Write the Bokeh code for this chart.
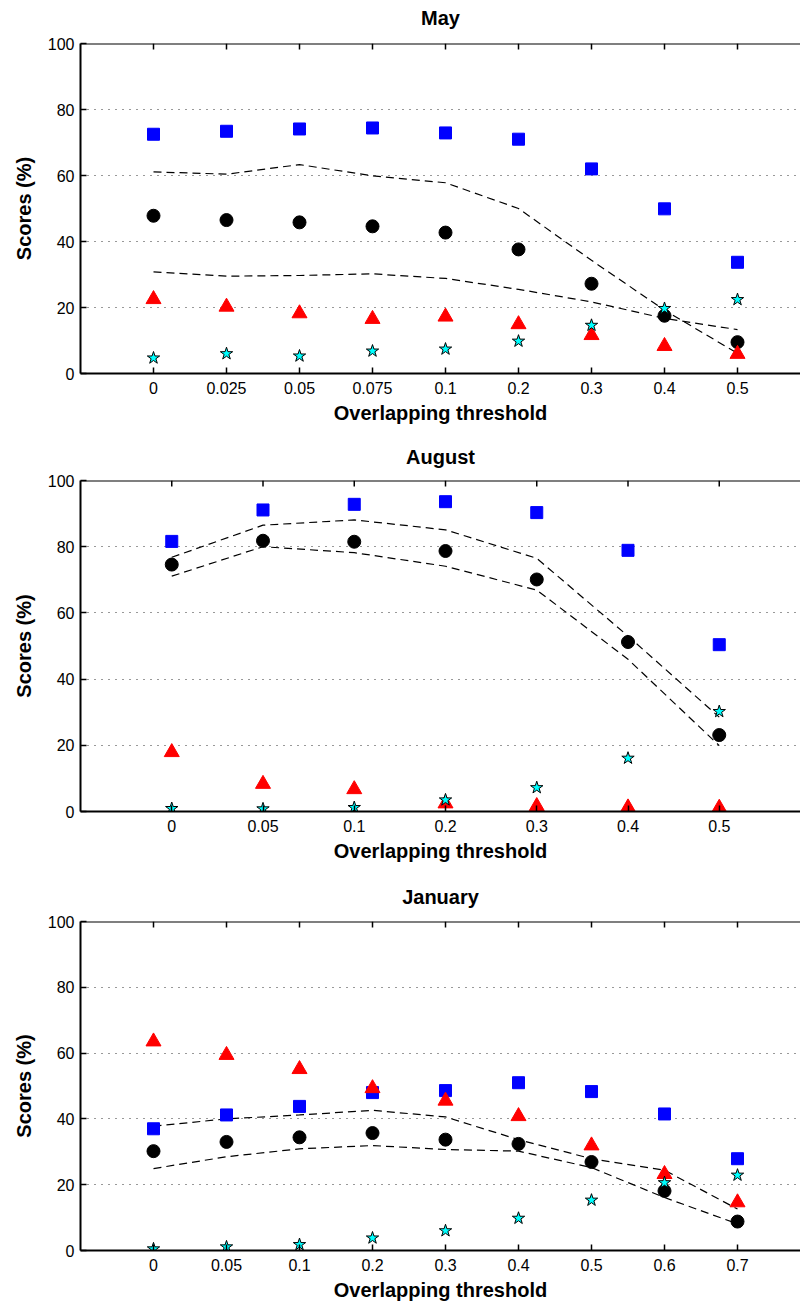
from bokeh.plotting import figure
from bokeh.layouts import column
from bokeh.models import Range1d, FixedTicker, Span
from bokeh.embed import file_html
from bokeh.resources import INLINE

# ---------------- data ----------------
may_thr = ["0", "0.025", "0.05", "0.075", "0.1", "0.2", "0.3", "0.4", "0.5"]
may_blue = [72.5, 73.4, 74.1, 74.4, 72.9, 71.0, 62.0, 49.9, 33.7]
may_black = [47.8, 46.5, 45.8, 44.6, 42.7, 37.6, 27.2, 17.5, 9.5]
may_red = [22.5, 20.2, 18.2, 16.5, 17.2, 14.9, 11.6, 8.3, 5.9]
may_cyan = [4.7, 6.0, 5.3, 6.8, 7.4, 9.8, 14.6, 19.7, 22.4]
may_upper = [61.1, 60.4, 63.3, 59.9, 57.8, 50.0, 34.3, 19.2, 6.1]
may_lower = [30.8, 29.5, 29.7, 30.2, 28.8, 25.5, 21.7, 16.7, 13.3]

aug_thr = ["0", "0.05", "0.1", "0.2", "0.3", "0.4", "0.5"]
aug_blue = [81.6, 91.1, 92.8, 93.6, 90.3, 78.9, 50.4]
aug_black = [74.6, 81.8, 81.5, 78.7, 70.1, 51.2, 23.1]
aug_red = [17.9, 8.3, 6.7, 2.4, 1.6, 1.2, 1.1]
aug_cyan = [0.9, 0.8, 1.2, 3.5, 7.2, 16.1, 30.2]
aug_upper = [76.8, 86.5, 88.1, 85.1, 76.5, 53.0, 28.5]
aug_lower = [71.1, 80.0, 78.2, 74.1, 66.9, 46.0, 19.9]

jan_thr = ["0", "0.05", "0.1", "0.2", "0.3", "0.4", "0.5", "0.6", "0.7"]
jan_blue = [37.0, 41.2, 43.8, 48.0, 48.6, 51.0, 48.3, 41.5, 27.9]
jan_black = [30.2, 33.0, 34.4, 35.7, 33.7, 32.4, 26.9, 18.1, 8.8]
jan_red = [63.5, 59.4, 55.1, 49.3, 45.5, 40.8, 31.9, 23.2, 14.6]
jan_cyan = [0.5, 1.1, 1.8, 3.8, 6.0, 9.8, 15.3, 20.6, 22.9]
jan_upper = [37.8, 40.0, 41.2, 42.6, 40.6, 33.7, 27.9, 24.4, 12.6]
jan_lower = [24.9, 28.5, 30.9, 31.9, 30.7, 30.2, 25.2, 16.1, 8.1]

y_ticks = [0, 20, 40, 60, 80, 100]

FONT = "Liberation Sans"
FRAME_W = 720.0


def panel(title, cats, blue, black, red, cyan, upper, lower,
          height, btop, bbot, t_stand, margin_top=0):
    n = len(cats)
    idx = list(range(n))
    unit = 730.0 / (n + 1)  # axis spans -1 .. n, cropped at the window's right edge
    x_end = -1 + FRAME_W / unit
    p = figure(width=800, height=height, output_backend="svg", toolbar_location=None,
               x_range=Range1d(-1, x_end), y_range=Range1d(0, 100),
               min_border_left=80, min_border_right=0, min_border_top=btop,
               min_border_bottom=bbot, outline_line_color=None, title=title,
               margin=(margin_top, 0, 0, 0))
    p.title.align = "center"
    p.title.text_font = FONT
    p.title.text_font_size = "20px"
    p.title.text_font_style = "bold"
    p.title.text_color = "black"
    p.title.offset = 5  # centre over the full (uncropped) axes box
    p.title.standoff = t_stand

    xa = p.xaxis[0]
    xa.ticker = FixedTicker(ticks=idx)
    xa.major_label_overrides = {i: c for i, c in enumerate(cats)}
    xa.axis_label = "Overlapping threshold"
    ya = p.yaxis[0]
    ya.ticker = FixedTicker(ticks=y_ticks)
    ya.axis_label = "Scores (%)"
    for ax in (xa, ya):
        ax.axis_line_width = 2
        ax.axis_line_color = "black"
        ax.major_tick_in = 6
        ax.major_tick_out = 0
        ax.major_tick_line_width = 1.5
        ax.minor_tick_line_color = None
        ax.major_tick_line_color = "black"
        ax.major_label_text_font = FONT
        ax.major_label_text_font_size = "16px"
        ax.major_label_text_color = "black"
        ax.axis_label_text_font = FONT
        ax.axis_label_text_font_size = "20px"
        ax.axis_label_text_font_style = "bold"
        ax.axis_label_text_color = "black"
    xa.major_label_standoff = 8
    xa.axis_label_standoff = 5
    ya.major_label_standoff = 6
    ya.axis_label_standoff = 10

    # top border with inward ticks
    p.add_layout(Span(location=100, dimension="width", line_color="black", line_width=2))
    p.segment(x0=idx, y0=[100] * n, x1=idx, y1=[98.2] * n, line_color="black", line_width=1.5)

    p.xgrid.grid_line_color = None
    p.ygrid.ticker = FixedTicker(ticks=[20, 40, 60, 80])
    p.ygrid.grid_line_color = "black"
    p.ygrid.grid_line_dash = "1 6"
    p.ygrid.grid_line_width = 1
    p.ygrid.grid_line_alpha = 0.8

    p.line(idx, upper, line_color="black", line_dash="8 5", line_width=1.2)
    p.line(idx, lower, line_color="black", line_dash="8 5", line_width=1.2)
    p.scatter(idx, blue, marker="square", size=12, color="#0000ff")
    p.scatter(idx, black, marker="circle", size=13, color="black")
    p.scatter(idx, red, marker="triangle", size=15, color="#ff0000")
    p.scatter(idx, cyan, marker="star", size=13, fill_color="#00ffff",
              line_color="black", line_width=1)
    return p


p1 = panel("May", may_thr, may_blue, may_black, may_red, may_cyan, may_upper, may_lower,
           441, 54, 57, 30, margin_top=-11)
p2 = panel("August", aug_thr, aug_blue, aug_black, aug_red, aug_cyan, aug_upper, aug_lower,
           439, 50, 58, 26)
p3 = panel("January", jan_thr, jan_blue, jan_black, jan_red, jan_cyan, jan_upper, jan_lower,
           435, 52, 54, 28)

layout = column(p1, p2, p3, spacing=0)
open("out.html", "w").write(file_html(layout, INLINE))
